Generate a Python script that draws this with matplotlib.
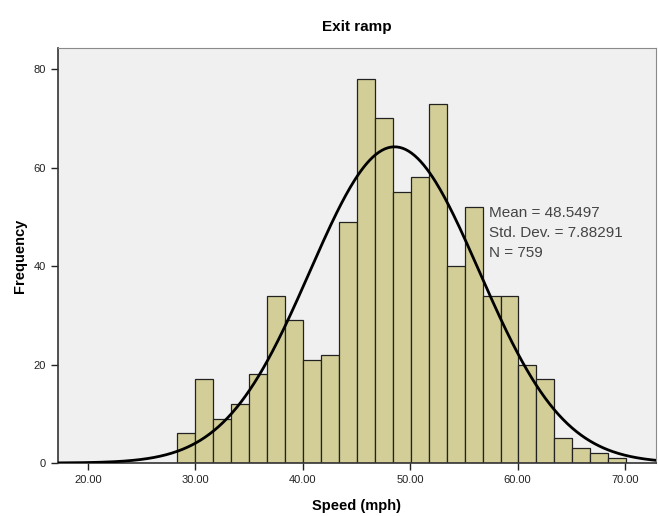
import numpy as np
import matplotlib
matplotlib.use("Agg")
import matplotlib.pyplot as plt

plt.rcParams['font.family'] = ['Liberation Sans', 'DejaVu Sans']

# histogram counts (25 bins)
counts = [6, 17, 9, 12, 18, 34, 29, 21, 22, 49, 78, 70, 55, 58, 73,
          40, 52, 34, 34, 20, 17, 5, 3, 2, 1]
bin_start = 28.32
bin_width = 1.672

mean = 48.5497
std = 7.88291
n = 759

x_ticks = [20, 30, 40, 50, 60, 70]
y_ticks = [0, 20, 40, 60, 80]

edges = bin_start + bin_width * np.arange(len(counts) + 1)

fig = plt.figure(figsize=(6.58, 5.16), dpi=100)
ax = fig.add_axes([0.0881, 0.1027, 0.9089, 0.8043])
ax.set_facecolor('#f0f0f0')

ax.bar(edges[:-1], counts, width=bin_width, align='edge',
       color='#d3ce97', edgecolor='#222222', linewidth=0.9, zorder=2)

xlim = (17.2, 72.9)
xs = np.linspace(xlim[0], xlim[1], 400)
ys = n * bin_width / (std * np.sqrt(2 * np.pi)) * np.exp(-0.5 * ((xs - mean) / std) ** 2)
ax.plot(xs, ys, color='black', linewidth=2, zorder=3)

ax.set_xlim(*xlim)
ax.set_ylim(0, 84.3)
ax.set_xticks(x_ticks)
ax.set_xticklabels([f"{v:.2f}" for v in x_ticks])
ax.set_yticks(y_ticks)
ax.tick_params(axis='both', labelsize=8, length=5, width=1, color='#222222',
               labelcolor='#222222')

for side in ['top', 'right']:
    ax.spines[side].set_color('#8a8a8a')
    ax.spines[side].set_linewidth(0.8)
for side in ['left', 'bottom']:
    ax.spines[side].set_color('#333333')
    ax.spines[side].set_linewidth(1.2)

ax.text(57.37, 52.2, f"Mean = {mean}\nStd. Dev. = {std}\nN = {n}",
        fontsize=11, color='#444444', va='top', ha='left',
        linespacing=1.55, zorder=4)

ax.set_title("Exit ramp", fontsize=11, fontweight='bold', pad=12)
ax.set_xlabel("Speed (mph)", fontsize=10.5, fontweight='bold', labelpad=10)
ax.set_ylabel("Frequency", fontsize=10.5, fontweight='bold', labelpad=5)

fig.savefig("out.png", dpi=100)
